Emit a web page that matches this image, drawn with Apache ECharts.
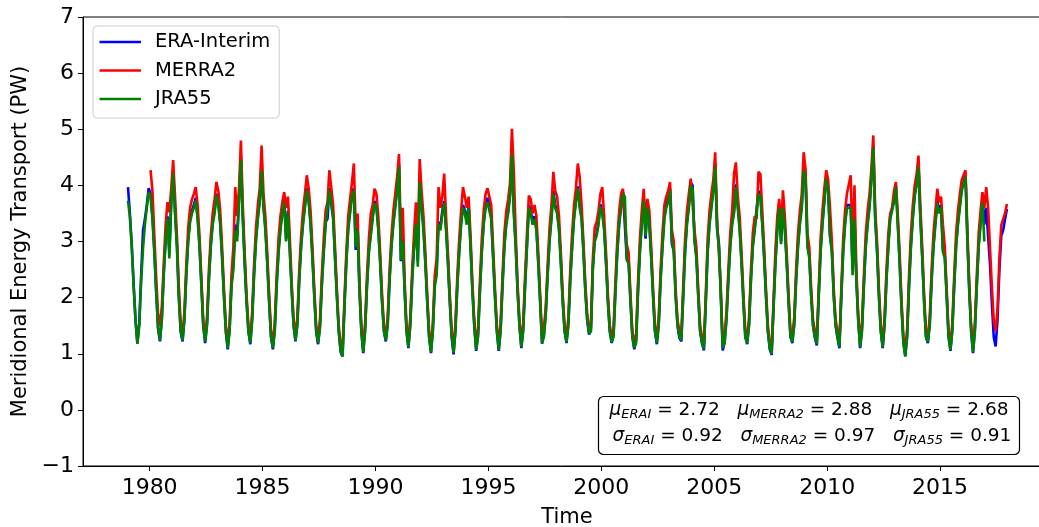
<!DOCTYPE html>
<html>
<head>
<meta charset="utf-8">
<script src="https://cdn.jsdelivr.net/npm/echarts@6/dist/echarts.min.js"></script>
<style>
html,body{margin:0;padding:0;background:#fff;}
#c{width:1039px;height:527px;}
</style>
</head>
<body>
<div id="c"></div>
<script>
// Monthly values (Jan..Dec per row)
var eraStart = 1979;
var eraInterim = [
3.97,3.50,2.95,2.25,1.60,1.18,1.55,2.40,3.20,3.40,3.65,3.95,
3.85,3.45,2.85,2.10,1.45,1.22,1.65,2.45,3.05,3.45,2.80,3.75,
4.25,3.55,2.95,2.05,1.40,1.22,1.65,2.45,3.05,3.40,3.55,3.65,
3.78,3.45,2.95,2.25,1.50,1.19,1.55,2.35,2.95,3.35,3.55,3.85,
3.70,3.35,2.75,2.05,1.40,1.08,1.45,2.25,2.60,3.30,3.10,3.75,
4.50,3.45,2.65,1.95,1.40,1.17,1.65,2.45,3.05,3.45,3.75,4.30,
3.65,3.25,2.65,1.95,1.30,1.08,1.45,2.25,2.85,3.25,3.55,3.75,
3.05,3.55,2.85,2.15,1.50,1.22,1.55,2.35,2.95,3.35,3.65,3.95,
3.75,3.35,2.75,2.05,1.40,1.17,1.50,2.25,2.85,3.35,3.40,3.95,
3.95,3.45,2.75,2.05,1.40,1.03,0.95,1.85,2.65,3.25,3.55,3.85,
3.95,2.85,3.25,2.15,1.40,1.01,1.45,2.25,2.85,3.15,3.45,3.72,
3.65,3.25,2.65,1.95,1.40,1.22,1.55,2.35,2.95,3.35,3.65,3.95,
4.38,2.65,3.05,2.15,1.40,1.10,1.55,2.35,2.95,3.35,2.65,4.10,
3.65,3.25,2.65,1.95,1.30,1.01,1.45,2.25,2.50,3.35,3.25,3.55,
3.72,3.25,2.65,1.95,1.30,0.99,1.45,2.25,2.85,3.35,3.65,3.55,
3.35,3.65,2.95,2.15,1.50,1.05,1.35,2.15,2.85,3.35,3.65,3.78,
3.75,3.45,2.75,2.05,1.40,1.05,1.45,2.25,2.95,3.35,3.55,3.85,
4.60,3.55,2.95,2.15,1.50,1.10,1.45,2.25,2.95,3.65,3.55,3.35,
3.45,3.25,2.65,1.95,1.18,1.35,1.75,2.45,3.05,3.45,3.90,3.65,
3.55,3.25,2.65,1.95,1.40,1.19,1.55,2.35,2.95,3.45,3.75,3.98,
3.65,3.45,2.85,2.15,1.60,1.34,1.45,2.55,3.05,3.15,3.35,3.66,
3.55,3.25,2.65,1.95,1.40,1.19,1.35,2.15,2.85,3.35,3.65,3.88,
3.85,2.70,2.65,1.95,1.30,1.08,1.25,2.15,2.85,3.35,3.78,3.05,
3.65,3.35,2.75,2.05,1.40,1.17,1.55,2.35,2.95,3.45,3.65,3.75,
3.95,2.95,2.85,2.05,1.50,1.28,1.22,2.05,2.85,3.35,3.65,4.05,
4.00,3.05,2.75,2.05,1.40,1.18,1.06,1.95,2.85,3.35,3.65,3.95,
4.38,3.25,2.95,2.05,1.06,1.20,1.65,2.35,2.95,3.35,3.55,4.02,
3.65,3.25,2.65,1.95,1.30,1.17,1.55,2.35,2.95,3.25,3.28,3.90,
3.85,3.35,2.75,2.05,1.40,1.08,0.98,1.85,2.65,3.25,3.65,3.00,
3.65,3.25,2.65,1.95,1.30,1.19,1.55,2.35,2.95,3.35,3.65,4.30,
4.15,2.95,2.75,2.05,1.50,1.28,1.15,2.05,2.85,3.35,3.75,4.15,
3.95,3.10,2.85,2.05,1.50,1.28,1.10,2.05,2.85,3.35,3.65,3.62,
3.65,2.50,3.45,2.35,1.60,1.10,1.45,2.25,2.95,3.35,3.65,4.15,
4.72,3.45,2.85,2.05,1.40,1.10,1.55,2.35,2.95,3.45,3.45,3.75,
4.00,3.35,2.65,1.85,1.20,0.96,1.35,2.25,2.95,3.45,3.85,4.05,
4.38,3.45,2.75,1.95,1.30,1.19,1.55,2.35,2.95,3.35,3.72,3.55,
3.65,2.85,2.75,2.05,1.30,1.05,1.45,2.25,2.95,3.35,3.65,3.95,
3.95,4.18,3.05,2.15,1.40,1.01,1.45,2.25,2.95,3.35,3.75,3.30,
3.60,3.10,2.60,1.90,1.30,1.13,1.60,2.50,3.10,3.20,3.40,3.58
];

var merraStart = 1980;
var merra2 = [
4.27,3.90,3.10,2.35,1.70,1.50,1.85,2.60,3.30,3.70,3.52,3.95,
4.45,3.80,3.10,2.20,1.55,1.35,1.75,2.60,3.25,3.60,3.75,3.85,
3.97,3.65,3.10,2.35,1.60,1.30,1.65,2.50,3.10,3.50,3.75,4.06,
3.90,3.55,2.90,2.15,1.50,1.20,1.55,2.40,2.90,3.97,3.45,3.95,
4.80,3.65,2.80,2.05,1.50,1.28,1.75,2.60,3.25,3.65,3.95,4.71,
3.85,3.45,2.80,2.05,1.40,1.20,1.55,2.40,3.05,3.45,3.70,3.88,
3.60,3.80,3.05,2.25,1.60,1.35,1.65,2.50,3.10,3.55,3.85,4.18,
3.95,3.55,2.90,2.15,1.50,1.28,1.60,2.40,3.05,3.55,3.70,4.27,
4.27,3.65,2.90,2.15,1.50,1.15,1.08,1.95,2.80,3.45,3.75,4.05,
4.39,3.25,3.50,2.30,1.50,1.12,1.55,2.40,3.05,3.50,3.65,3.94,
3.85,3.45,2.80,2.05,1.50,1.35,1.65,2.50,3.10,3.55,3.85,4.15,
4.56,3.05,3.60,2.30,1.50,1.22,1.65,2.50,3.15,3.70,3.00,4.47,
3.90,3.45,2.80,2.05,1.40,1.12,1.55,2.40,2.70,3.97,3.60,3.80,
4.21,3.45,2.80,2.05,1.40,1.12,1.55,2.40,3.05,3.55,3.97,3.80,
3.60,3.80,3.10,2.25,1.60,1.17,1.45,2.30,3.05,3.55,3.85,3.95,
3.95,3.65,2.90,2.15,1.50,1.17,1.55,2.40,3.15,3.55,3.75,4.05,
5.01,4.25,3.15,2.25,1.60,1.22,1.55,2.40,3.15,3.82,3.75,3.50,
3.65,3.45,2.80,2.05,1.30,1.45,1.85,2.60,3.25,3.65,4.24,3.90,
3.80,3.45,2.80,2.05,1.50,1.32,1.65,2.50,3.15,3.65,3.95,4.39,
4.15,3.65,3.00,2.25,1.70,1.45,1.55,2.70,3.25,3.35,3.55,3.85,
3.97,3.45,2.80,2.05,1.50,1.32,1.45,2.30,3.05,3.55,3.85,3.94,
3.94,2.95,2.80,2.05,1.40,1.20,1.35,2.30,3.05,3.55,3.94,3.40,
3.76,3.55,2.90,2.15,1.50,1.30,1.65,2.50,3.15,3.65,3.80,3.90,
4.06,3.20,3.00,2.15,1.60,1.40,1.35,2.20,3.05,3.55,3.85,4.12,
4.10,3.20,2.90,2.15,1.50,1.30,1.18,2.05,3.05,3.55,3.85,4.10,
4.59,3.40,3.40,2.15,1.20,1.32,1.75,2.50,3.15,3.55,4.21,4.41,
3.80,3.45,2.80,2.05,1.40,1.30,1.65,2.50,3.15,3.45,3.40,4.24,
4.20,3.55,2.90,2.15,1.50,1.20,1.10,1.95,2.85,3.45,3.76,3.20,
3.91,3.45,2.80,2.05,1.40,1.32,1.65,2.50,3.15,3.55,3.85,4.59,
4.30,3.15,2.90,2.15,1.60,1.40,1.27,2.15,3.05,3.55,3.95,4.27,
4.10,3.60,3.00,2.15,1.60,1.40,1.22,2.15,3.05,3.55,3.85,3.85,
4.18,2.90,4.00,2.50,1.70,1.22,1.55,2.40,3.15,3.55,3.85,4.30,
4.89,3.58,3.00,2.15,1.50,1.22,1.65,2.50,3.15,3.50,3.60,3.90,
4.06,3.50,2.80,1.95,1.30,1.05,1.45,2.40,3.15,3.65,4.00,4.20,
4.53,3.65,2.90,2.05,1.40,1.32,1.65,2.50,3.15,3.55,3.94,3.70,
3.80,3.30,2.90,2.15,1.40,1.17,1.55,2.40,3.15,3.55,3.85,4.10,
4.10,4.27,3.20,2.25,1.50,1.13,1.55,2.40,3.15,3.55,3.88,3.60,
3.97,3.60,2.90,2.20,1.60,1.40,1.80,2.70,3.29,3.40,3.50,3.67
];

var jraStart = 1979;
var jra55 = [
3.73,3.44,2.90,2.20,1.60,1.18,1.50,2.30,2.88,3.30,3.60,3.88,
3.80,3.40,2.80,2.10,1.45,1.24,1.60,2.40,3.00,3.40,2.70,3.70,
4.21,3.50,2.90,2.00,1.40,1.24,1.60,2.40,3.00,3.35,3.50,3.60,
3.73,3.40,2.90,2.20,1.50,1.21,1.50,2.30,2.90,3.30,3.50,3.82,
3.65,3.30,2.70,2.00,1.40,1.10,1.40,2.20,2.50,3.20,3.00,3.70,
4.45,3.40,2.60,1.90,1.40,1.19,1.60,2.40,3.00,3.40,3.70,4.27,
3.60,3.20,2.60,1.90,1.30,1.10,1.40,2.20,2.80,3.20,3.50,3.70,
3.00,3.50,2.80,2.10,1.50,1.24,1.50,2.30,2.90,3.30,3.60,3.91,
3.70,3.30,2.70,2.00,1.40,1.19,1.45,2.20,2.80,3.30,3.32,3.91,
3.91,3.40,2.70,2.00,1.40,1.05,0.95,1.80,2.60,3.20,3.50,3.80,
3.91,2.90,3.20,2.10,1.40,1.03,1.40,2.20,2.80,3.10,3.40,3.68,
3.60,3.20,2.60,1.90,1.40,1.24,1.50,2.30,2.90,3.30,3.60,3.90,
4.33,2.67,3.00,2.10,1.40,1.12,1.50,2.30,2.90,3.30,2.55,4.06,
3.60,3.20,2.60,1.90,1.30,1.03,1.40,2.20,2.40,3.30,3.20,3.50,
3.68,3.20,2.60,1.90,1.30,1.02,1.40,2.20,2.80,3.30,3.60,3.50,
3.30,3.60,2.90,2.10,1.50,1.07,1.30,2.10,2.80,3.30,3.60,3.70,
3.70,3.40,2.70,2.00,1.40,1.07,1.40,2.20,2.90,3.30,3.50,3.80,
4.56,3.50,2.90,2.10,1.50,1.12,1.40,2.20,2.90,3.60,3.50,3.30,
3.40,3.20,2.60,1.90,1.19,1.30,1.70,2.40,3.00,3.40,3.85,3.60,
3.50,3.20,2.60,1.90,1.40,1.21,1.50,2.30,2.90,3.40,3.70,3.94,
3.60,3.40,2.80,2.10,1.60,1.36,1.40,2.50,3.00,3.10,3.30,3.62,
3.50,3.20,2.60,1.90,1.40,1.21,1.30,2.10,2.80,3.30,3.60,3.85,
3.80,2.67,2.60,1.90,1.30,1.10,1.20,2.10,2.80,3.30,3.73,3.10,
3.60,3.30,2.70,2.00,1.40,1.19,1.50,2.30,2.90,3.40,3.60,3.70,
3.91,3.00,2.80,2.00,1.50,1.30,1.24,2.00,2.80,3.30,3.60,4.00,
3.95,3.00,2.70,2.00,1.40,1.20,1.08,1.90,2.80,3.30,3.60,3.90,
4.33,3.20,2.90,2.00,1.10,1.20,1.60,2.30,2.90,3.30,3.50,3.97,
3.60,3.20,2.60,1.90,1.30,1.19,1.50,2.30,2.90,3.20,3.20,3.85,
3.80,3.30,2.70,2.00,1.40,1.10,1.00,1.80,2.60,3.20,3.60,2.95,
3.60,3.20,2.60,1.90,1.30,1.21,1.50,2.30,2.90,3.30,3.60,4.27,
4.10,2.90,2.70,2.00,1.50,1.30,1.17,2.00,2.80,3.30,3.70,4.12,
3.90,3.10,2.80,2.00,1.50,1.30,1.12,2.00,2.80,3.30,3.60,3.60,
3.60,2.40,3.40,2.30,1.60,1.12,1.40,2.20,2.90,3.30,3.60,4.10,
4.68,3.40,2.80,2.00,1.40,1.12,1.50,2.30,2.90,3.40,3.40,3.70,
3.97,3.30,2.60,1.80,1.20,0.95,1.30,2.20,2.90,3.40,3.80,4.00,
4.33,3.40,2.70,1.90,1.30,1.21,1.50,2.30,2.90,3.30,3.68,3.50,
3.60,2.81,2.70,2.00,1.30,1.07,1.40,2.20,2.90,3.30,3.60,3.90,
3.90,4.15,3.00,2.10,1.40,1.03,1.40,2.20,2.90,3.30,3.70,3.00
];

var xTicks = [1980, 1985, 1990, 1995, 2000, 2005, 2010, 2015];
var yTicks = [-1, 0, 1, 2, 3, 4, 5, 6, 7];
var statsLine1 = [['μ','ERAI','2.72'],['μ','MERRA2','2.88'],['μ','JRA55','2.68']];
var statsLine2 = [['σ','ERAI','0.92'],['σ','MERRA2','0.97'],['σ','JRA55','0.91']];

function monthly(start, arr) {
  return arr.map(function (v, i) { return [start + (i + 0.5) / 12, v]; });
}
function statText(parts) {
  return parts.map(function (p) {
    return '{g|' + p[0] + '}{s|' + p[1] + '}{n| = ' + p[2] + '}';
  }).join('{n|   }');
}

var FONT = 'DejaVu Sans';
var chart = echarts.init(document.getElementById('c'), null, {renderer: 'canvas'});
var richStyle = {
  g: {fontFamily: FONT, fontSize: 18.5, fontStyle: 'italic', color: '#000'},
  s: {fontFamily: FONT, fontSize: 13, fontStyle: 'italic', color: '#000', padding: [9, 0, 0, 0]},
  n: {fontFamily: FONT, fontSize: 18.5, color: '#000'}
};

chart.setOption({
  animation: false,
  backgroundColor: '#fff',
  textStyle: {fontFamily: FONT},
  grid: {left: 83, top: 17, width: 968, height: 449, show: true, borderColor: '#000', borderWidth: 1,
    backgroundColor: 'transparent', containLabel: false, outerBoundsMode: 'none'},
  legend: {
    orient: 'vertical', left: 93, top: 26,
    padding: [6, 9, 9, 6.5],
    icon: 'rect',
    itemWidth: 41.5, itemHeight: 2.7, itemGap: 8.5,
    backgroundColor: '#fff', borderColor: '#cccccc', borderWidth: 1, borderRadius: 4,
    textStyle: {fontFamily: FONT, fontSize: 19.5, color: '#000', lineHeight: 20, padding: [0, 0, 0, 9]},
    data: ['ERA-Interim', 'MERRA2', 'JRA55']
  },
  xAxis: {
    type: 'value', min: 1977.05, max: 2019.91,
    name: 'Time', nameLocation: 'middle', nameGap: 41,
    nameTextStyle: {fontFamily: FONT, fontSize: 21, color: '#000'},
    axisLine: {onZero: false, lineStyle: {color: '#000', width: 1}},
    axisTick: {show: true, length: 5, lineStyle: {color: '#000', width: 1}, customValues: xTicks},
    axisLabel: {fontFamily: FONT, fontSize: 22, color: '#000', margin: 11, customValues: xTicks,
      formatter: function (v) { return String(v); }},
    splitLine: {show: false}
  },
  yAxis: {
    type: 'value', min: -1, max: 7, interval: 1,
    name: 'Meridional Energy Transport (PW)', nameLocation: 'middle', nameGap: 48,
    nameTextStyle: {fontFamily: FONT, fontSize: 21, color: '#000'},
    axisLine: {show: true, onZero: false, lineStyle: {color: '#000', width: 1}},
    axisTick: {show: true, length: 5, lineStyle: {color: '#000', width: 1}, customValues: yTicks},
    axisLabel: {fontFamily: FONT, fontSize: 22, color: '#000', margin: 9, customValues: yTicks,
      formatter: function (v) { return String(v).replace('-', '\u2212'); }},
    splitLine: {show: false}
  },
  series: [
    {name: 'ERA-Interim', type: 'line', data: monthly(eraStart, eraInterim), symbol: 'none', showSymbol: false,
      color: '#0000ff', lineStyle: {color: '#0000ff', width: 2.6}},
    {name: 'MERRA2', type: 'line', data: monthly(merraStart, merra2), symbol: 'none', showSymbol: false,
      color: '#ff0000', lineStyle: {color: '#ff0000', width: 2.6}},
    {name: 'JRA55', type: 'line', data: monthly(jraStart, jra55), symbol: 'none', showSymbol: false,
      color: '#008000', lineStyle: {color: '#008000', width: 2.6}}
  ],
  graphic: [
    {type: 'rect', shape: {x: 598.5, y: 396.5, width: 421, height: 58, r: 5},
      style: {fill: '#fff', stroke: '#000', lineWidth: 1.2}, z: 100},
    {type: 'text', x: 809, y: 410, z: 101,
      style: {text: statText(statsLine1), rich: richStyle, align: 'center', verticalAlign: 'middle'}},
    {type: 'text', x: 812, y: 436, z: 101,
      style: {text: statText(statsLine2), rich: richStyle, align: 'center', verticalAlign: 'middle'}}
  ]
});
</script>
</body>
</html>
